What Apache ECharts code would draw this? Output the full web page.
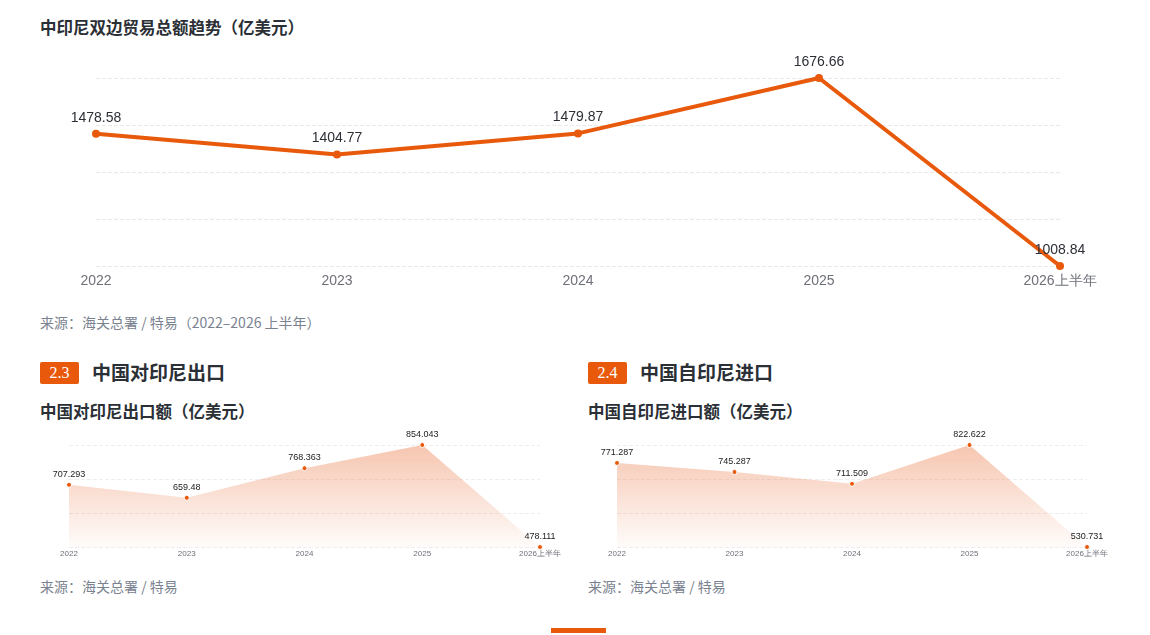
<!DOCTYPE html>
<html>
<head>
<meta charset="utf-8">
<script src="https://cdn.jsdelivr.net/npm/echarts@6/dist/echarts.min.js"></script>
<style>
  body { margin: 0; background: #fff; font-family: "Noto Sans CJK SC", "Noto Sans", sans-serif; }
  #page { position: relative; width: 1150px; height: 635px; overflow: hidden; }
  .abs { position: absolute; white-space: nowrap; }
  .title { font-size: 16.5px; font-weight: bold; color: #2b2f36; line-height: 20px; }
  .src { font-size: 14px; color: #7a8290; line-height: 18px; }
  .badge { background: #e8590c; color: #fff; font-family: "Liberation Serif", serif; font-size: 16px;
           width: 39px; height: 22px; line-height: 22px; text-align: center; border-radius: 2px; }
  .head { font-size: 19px; font-weight: bold; color: #2b2f36; line-height: 22px; }
  .chart { position: absolute; }
</style>
</head>
<body>
<div id="page">
  <div class="abs title" style="left:40px;top:17px">中印尼双边贸易总额趋势（亿美元）</div>
  <div id="chart-main" class="chart" style="left:0;top:40px;width:1150px;height:260px"></div>
  <div class="abs src" style="left:40px;top:313px">来源：海关总署 / 特易（2022–2026 上半年）</div>

  <div class="abs badge" style="left:40px;top:362px">2.3</div>
  <div class="abs head" style="left:92px;top:361px">中国对印尼出口</div>
  <div class="abs title" style="left:40px;top:401px">中国对印尼出口额（亿美元）</div>
  <div id="chart-export" class="chart" style="left:0;top:430px;width:575px;height:140px"></div>
  <div class="abs src" style="left:40px;top:577px">来源：海关总署 / 特易</div>

  <div class="abs badge" style="left:588px;top:362px">2.4</div>
  <div class="abs head" style="left:640px;top:361px">中国自印尼进口</div>
  <div class="abs title" style="left:588px;top:401px">中国自印尼进口额（亿美元）</div>
  <div id="chart-import" class="chart" style="left:575px;top:430px;width:575px;height:140px"></div>
  <div class="abs src" style="left:588px;top:577px">来源：海关总署 / 特易</div>

  <div class="abs" style="left:551px;top:628px;width:55px;height:5px;background:#e8590c"></div>
</div>
<script>
// data
const years = ['2022', '2023', '2024', '2025', '2026上半年']
const totalTrade = [1478.58, 1404.77, 1479.87, 1676.66, 1008.84]
const exportsToIndonesia = [707.293, 659.48, 768.363, 854.043, 478.111]
const importsFromIndonesia = [771.287, 745.287, 711.509, 822.622, 530.731]

const orange = '#e8590c'

// main line chart
const mainChart = echarts.init(document.getElementById('chart-main'))
const mainMin = Math.min(...totalTrade)
const mainMax = Math.max(...totalTrade)
mainChart.setOption({
    animation: false,
    grid: { left: 96, right: 90, top: 38, bottom: 34 },
    xAxis: {
        type: 'category',
        data: years,
        boundaryGap: false,
        axisLine: { show: false },
        axisTick: { show: false },
        axisLabel: { color: '#6e7079', fontSize: 14, margin: 8 }
    },
    yAxis: {
        type: 'value',
        min: mainMin,
        max: mainMax,
        interval: (mainMax - mainMin) / 4,
        axisLabel: { show: false },
        splitLine: { lineStyle: { color: '#e8e8e8', type: 'dashed' } }
    },
    series: [{
        type: 'line',
        data: totalTrade,
        symbol: 'circle',
        symbolSize: 8,
        lineStyle: { color: orange, width: 4 },
        itemStyle: { color: orange },
        label: { show: true, position: 'top', distance: 5, color: '#2b2f36', fontSize: 14 }
    }]
})

// small area charts
function smallChart(id, values, left, right) {
    const chart = echarts.init(document.getElementById(id))
    const lo = Math.min(...values)
    const hi = Math.max(...values)
    chart.setOption({
        animation: false,
        grid: { left: left, right: right, top: 15, bottom: 23 },
        xAxis: {
            type: 'category',
            data: years,
            boundaryGap: false,
            axisLine: { show: false },
            axisTick: { show: false },
            axisLabel: { color: '#6e7079', fontSize: 8, margin: 3 }
        },
        yAxis: {
            type: 'value',
            min: lo,
            max: hi,
            interval: (hi - lo) / 3,
            axisLabel: { show: false },
            splitLine: { lineStyle: { color: '#eeeeee', type: 'dashed' } }
        },
        series: [{
            type: 'line',
            data: values,
            symbol: 'circle',
            symbolSize: 5,
            lineStyle: { width: 0 },
            itemStyle: { color: orange, borderColor: '#fff', borderWidth: 1 },
            areaStyle: {
                color: new echarts.graphic.LinearGradient(0, 0, 0, 1, [
                    { offset: 0, color: 'rgba(236,134,88,0.68)' },
                    { offset: 1, color: 'rgba(236,134,88,0.04)' }
                ])
            },
            label: { show: true, position: 'top', distance: 3, color: '#222', fontSize: 9, fontWeight: 500 }
        }]
    })
}

smallChart('chart-export', exportsToIndonesia, 69, 35)
smallChart('chart-import', importsFromIndonesia, 42, 63)
</script>
</body>
</html>
